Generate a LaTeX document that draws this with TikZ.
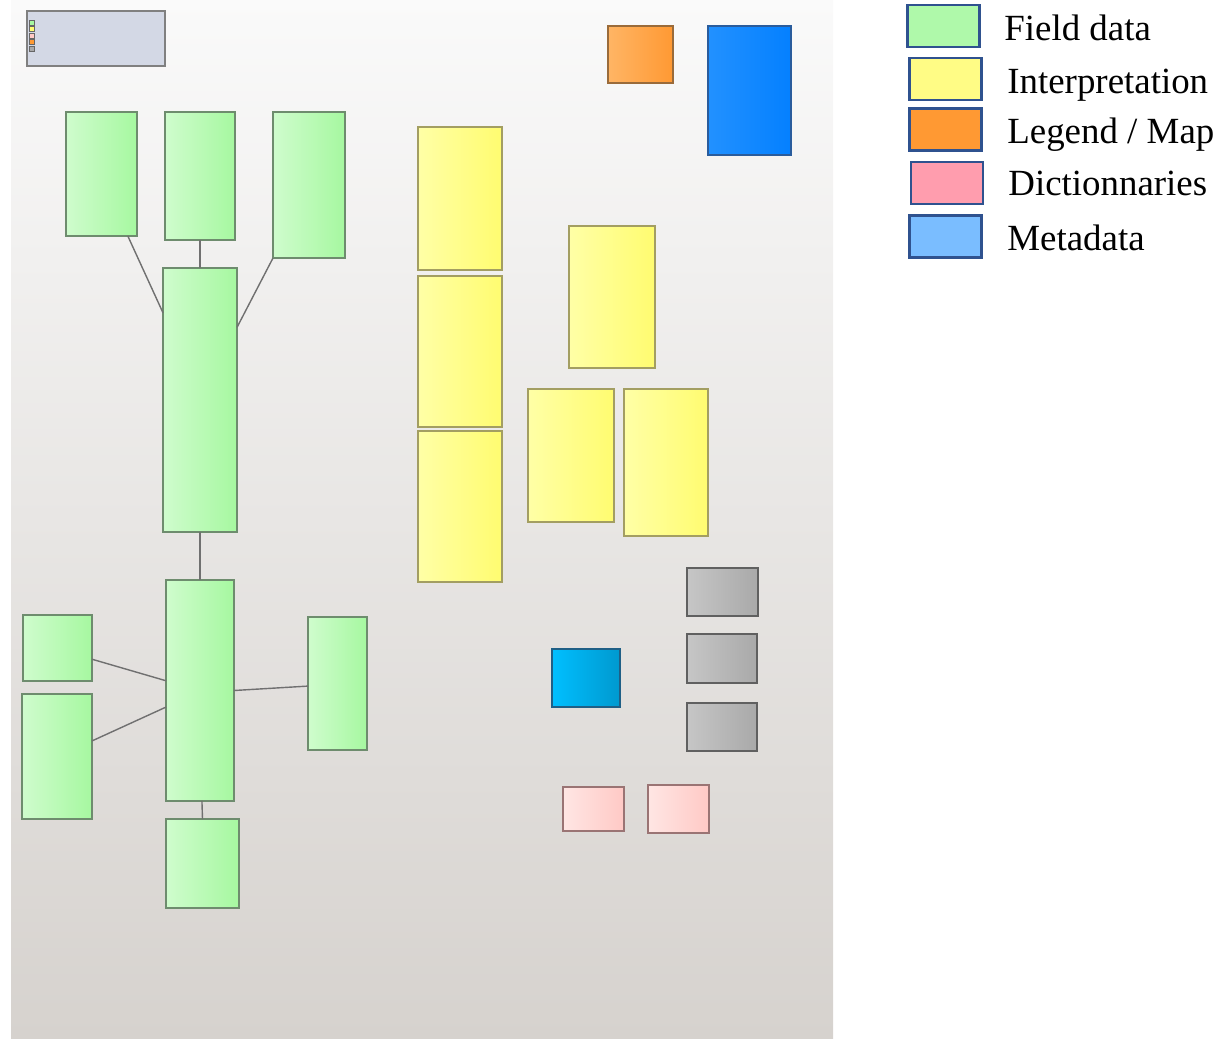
\documentclass[tikz,border=0pt]{standalone}
\usepackage{fontspec}
\setmainfont{Liberation Serif}

\definecolor{fieldL}{HTML}{CFFCCD}
\definecolor{fieldR}{HTML}{A6F8A0}
\definecolor{fieldD}{HTML}{6E8C6E}
\definecolor{interL}{HTML}{FFFFA6}
\definecolor{interR}{HTML}{FFFC70}
\definecolor{interD}{HTML}{A39E62}
\definecolor{legL}{HTML}{FFB565}
\definecolor{legR}{HTML}{FF9933}
\definecolor{legD}{HTML}{9A6B3A}
\definecolor{metaL}{HTML}{2291FF}
\definecolor{metaR}{HTML}{0480FF}
\definecolor{metaD}{HTML}{2A5C9C}
\definecolor{cyanL}{HTML}{00BFFF}
\definecolor{cyanR}{HTML}{0099CF}
\definecolor{cyanD}{HTML}{1F5F86}
\definecolor{greyL}{HTML}{C6C6C6}
\definecolor{greyR}{HTML}{A9A9A9}
\definecolor{greyD}{HTML}{606060}
\definecolor{dictL}{HTML}{FFE6E4}
\definecolor{dictR}{HTML}{FFC9C5}
\definecolor{dictD}{HTML}{9A7474}
\definecolor{dictKey}{HTML}{FF9DAE}
\definecolor{wsTop}{HTML}{FAFAFA}
\definecolor{wsBot}{HTML}{D6D2CE}
\definecolor{ovFill}{HTML}{D3D8E5}
\definecolor{swLine}{HTML}{2F528F}
\definecolor{linkC}{HTML}{707070}

\begin{document}
\begin{tikzpicture}[x=0.02cm, y=-0.02cm,
  box/.style={draw, inner sep=0pt, outer sep=0pt, line width=0.6pt},
  dim/.style 2 args={minimum width=#1*0.02cm, minimum height=#2*0.02cm},
  field/.style={box, draw=fieldD, left color=fieldL, right color=fieldR},
  inter/.style={box, draw=interD, left color=interL, right color=interR},
  legmap/.style={box, draw=legD, left color=legL, right color=legR},
  meta/.style={box, draw=metaD, left color=metaL, right color=metaR},
  metab/.style={box, draw=cyanD, left color=cyanL, right color=cyanR},
  other/.style={box, draw=greyD, left color=greyL, right color=greyR},
  dict/.style={box, draw=dictD, left color=dictL, right color=dictR},
  link/.style={draw=linkC, line width=0.8pt},
  swatch/.style={draw=swLine, line width=1.3pt, inner sep=0pt, dim={72}{42}},
  key/.style={anchor=base west, inner sep=0pt, font=\fontsize{21}{25}\selectfont}]

  \useasboundingbox (0,0) rectangle (1220,1038);

  % workspace background
  \shade[top color=wsTop, bottom color=wsBot] (11,0) rectangle (833,1038);

  % overview box with its small colour marks
  \node[box, draw=gray, fill=ovFill, dim={138}{55}] (ov) at (96,38.5) {};
  \foreach \c [count=\i from 0] in {fieldR,interR,dictR,legR,greyR}{% one mark per group
    \node[box, draw=gray!80!black, line width=0.4pt, fill=\c, dim={5}{5}] (mark\i) at (31.5,22.5+6.5*\i) {};}

  % field data
  \node[field, dim={71}{124}] (g1) at (101.5,174) {};
  \node[field, dim={70}{128}] (g2) at (200,176) {};
  \node[field, dim={72}{146}] (g3) at (309,185) {};
  \node[field, dim={74}{264}] (gm) at (200,400) {};
  \node[field, dim={68}{221}] (g5) at (200,690.5) {};
  \node[field, dim={69}{66}] (g6) at (57.5,648) {};
  \node[field, dim={70}{125}] (g7) at (57,756.5) {};
  \node[field, dim={59}{133}] (g8) at (337.5,683.5) {};
  \node[field, dim={73}{89}] (g9) at (202.5,863.5) {};

  \draw[link] (g1.-67) -- (gm.113);
  \draw[link] (g2.south) -- (gm.north);
  \draw[link] (g3.south west) -- (gm.63);
  \draw[link] (gm.south) -- (g5.north);
  \draw[link] (g6.-18) -- (g5.164);
  \draw[link] (g7.24) -- (g5.206);
  \draw[link] (g5.east) -- (g8.185);
  \draw[link] (g5.-89) -- (g9.north);

  % interpretation
  \node[inter, dim={84}{143}] (y1) at (460,198.5) {};
  \node[inter, dim={84}{151}] (y2) at (460,351.5) {};
  \node[inter, dim={84}{151}] (y3) at (460,506.5) {};
  \node[inter, dim={86}{142}] (y4) at (612,297) {};
  \node[inter, dim={86}{133}] (y5) at (571,455.5) {};
  \node[inter, dim={84}{147}] (y6) at (666,462.5) {};

  % legend / map and metadata
  \node[legmap, dim={65}{57}] (lm) at (640.5,54.5) {};
  \node[meta, dim={83}{129}] (md) at (749.5,90.5) {};
  \node[metab, dim={68}{58}] (mc) at (586,678) {};

  % grey boxes
  \node[other, dim={71}{48}] (o1) at (722.5,592) {};
  \node[other, dim={70}{49}] (o2) at (722,658.5) {};
  \node[other, dim={70}{48}] (o3) at (722,727) {};

  % dictionnaries
  \node[dict, dim={61}{44}] (d1) at (593.5,809) {};
  \node[dict, dim={61}{48}] (d2) at (678.5,809) {};

  % key
  \node[swatch, fill=fieldR!90!white] (sw1) at (943.5,26) {};
  \node[swatch, fill=interR!85!white] (sw2) at (945.5,79) {};
  \node[swatch, fill=legR] (sw3) at (945.5,129.5) {};
  \node[swatch, fill=dictKey] (sw4) at (947,183) {};
  \node[swatch, fill=metaL!60!white] (sw5) at (945.5,236.5) {};

  \node[key] (k1) at (1004,40.5) {Field data};
  \node[key] (k2) at (1007,93) {Interpretation};
  \node[key] (k3) at (1007,143) {Legend / Map};
  \node[key] (k4) at (1008,195) {Dictionnaries};
  \node[key] (k5) at (1007,250) {Metadata};

\end{tikzpicture}
\end{document}
